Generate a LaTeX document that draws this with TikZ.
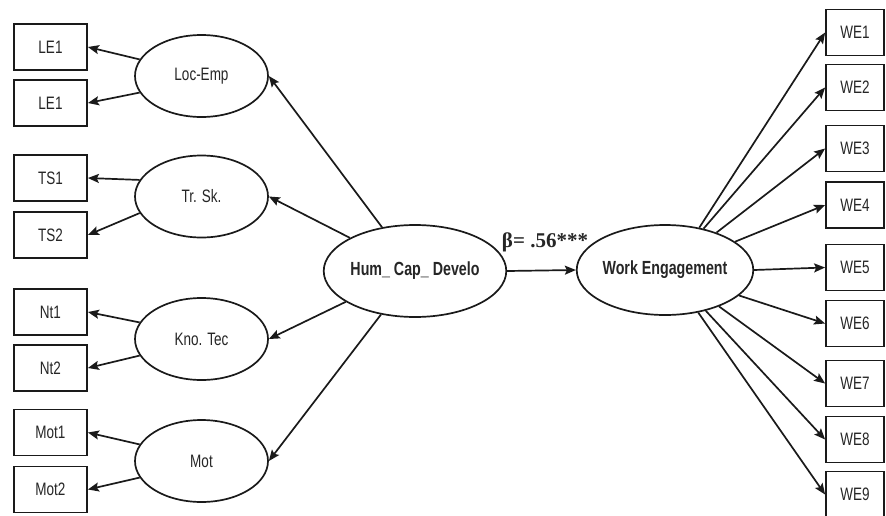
\documentclass[tikz,border=0pt]{standalone}
\usepackage{fontspec}
\setmainfont{Liberation Sans}
\newfontfamily\condfont[FakeStretch=0.75]{Liberation Sans}
\newfontfamily\betafont{Liberation Serif}
\usetikzlibrary{arrows.meta,shapes.geometric}
\definecolor{ink}{HTML}{1A1A1A}
\definecolor{txt}{HTML}{262626}
\tikzset{
  obs/.style={draw=ink, line width=1.8pt, rectangle, minimum width=73pt, minimum height=46pt, inner sep=0pt, font=\condfont\fontsize{18}{18}\selectfont, text=txt},
  obsr/.style={obs, minimum width=58pt},
  lat/.style={draw=ink, line width=1.7pt, ellipse, minimum width=133pt, minimum height=82pt, inner sep=0pt, font=\condfont\fontsize{18}{18}\selectfont, text=txt},
  big/.style={lat, minimum width=146pt, minimum height=92pt, font=\condfont\bfseries\fontsize{19}{19}\selectfont},
  arr/.style={draw=ink, line width=1.7pt, -{Stealth[length=11pt,width=9pt,inset=2pt]}}
}
\begin{document}
\begin{tikzpicture}[x=1pt,y=-1pt]
\useasboundingbox[fill=white] (0,0) rectangle (886,515);
% left indicators
\node[obs] (le1) at (50.5,47) {LE1};
\node[obs] (le2) at (50.5,103) {LE1};
\node[obs] (ts1) at (50.5,178) {TS1};
\node[obs] (ts2) at (50.5,235) {TS2};
\node[obs] (nt1) at (50.5,312) {Nt1};
\node[obs] (nt2) at (50.5,368) {Nt2};
\node[obs] (mot1) at (50.5,432.5) {Mot1};
\node[obs] (mot2) at (50.5,489.5) {Mot2};
% first-order latents
\node[lat] (loc) at (201.5,76) {Loc-Emp};
\node[lat] (trs) at (201.5,196.5) {Tr. Sk.};
\node[lat] (kno) at (201.5,339) {Kno. Tec};
\node[lat] (mot) at (201.5,461) {Mot};
% second-order and outcome
\node[big] (hum) at (415,271) {Hum\_ Cap\_ Develo};
\node[big, minimum width=154pt, minimum height=90pt] (we) at (665,270) {Work Engagement};
% right indicators
\node[obsr] (we1) at (855,32.5) {WE1};
\node[obsr] (we2) at (855,87.5) {WE2};
\node[obsr] (we3) at (855,148.5) {WE3};
\node[obsr] (we4) at (855,205) {WE4};
\node[obsr] (we5) at (855,267.5) {WE5};
\node[obsr] (we6) at (855,323.5) {WE6};
\node[obsr] (we7) at (855,383.5) {WE7};
\node[obsr] (we8) at (855,439.5) {WE8};
\node[obsr] (we9) at (855,494.5) {WE9};
% beta label
\node[font=\betafont\fontsize{21}{21}\selectfont\bfseries, text=txt] (beta) at (545,242) {β= .56***};
% loadings left
\draw[arr] (loc.165) -- (le1.east);
\draw[arr] (loc.195) -- (le2.east);
\draw[arr] (trs.165) -- (ts1.east);
\draw[arr] (trs.195) -- (ts2.east);
\draw[arr] (kno.165) -- (nt1.east);
\draw[arr] (kno.195) -- (nt2.east);
\draw[arr] (mot.165) -- (mot1.east);
\draw[arr] (mot.195) -- (mot2.east);
% second-order paths
\draw[arr] (hum.127) -- (loc.east);
\draw[arr] (hum.153) -- (trs.east);
\draw[arr] (hum.204) -- (kno.east);
\draw[arr] (hum.232) -- (mot.east);
% structural path
\draw[arr] (hum.east) -- (we.west);
% outcome loadings
\draw[arr] (we.51) -- (we1.west);
\draw[arr] (we.47) -- (we2.west);
\draw[arr] (we.36) -- (we3.west);
\draw[arr] (we.22) -- (we4.west);
\draw[arr] (we.east) -- (we5.west);
\draw[arr] (we.-19) -- (we6.west);
\draw[arr] (we.-34) -- (we7.west);
\draw[arr] (we.-45) -- (we8.west);
\draw[arr] (we.-52) -- (we9.west);
\end{tikzpicture}
\end{document}
